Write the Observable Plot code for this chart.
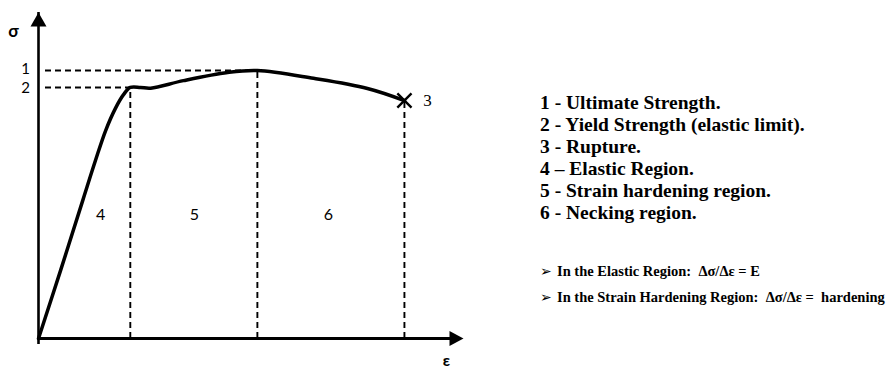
<!DOCTYPE html>
<html>
<head>
<meta charset="utf-8">
<script src="https://cdn.jsdelivr.net/npm/d3@7"></script>
<script src="https://cdn.jsdelivr.net/npm/@observablehq/plot@0.6"></script>
<style>
  body { margin: 0; background: #fff; width: 896px; height: 369px; position: relative; overflow: hidden; }
  #chart { position: absolute; left: 0; top: 0; }
  #key { position: absolute; left: 540px; top: 92px; font-family: "Liberation Serif", "Times New Roman", serif;
         font-weight: bold; font-size: 19.5px; line-height: 22px; color: #000; white-space: nowrap; }
  #notes { position: absolute; left: 540px; top: 258px; font-family: "Liberation Serif", "Times New Roman", serif;
           font-weight: bold; font-size: 14.5px; line-height: 26px; color: #000; white-space: nowrap; }
  #notes .b { font-family: "DejaVu Sans", sans-serif; font-weight: normal; font-size: 14px; display: inline-block; width: 17px; }
</style>
</head>
<body>
<div id="chart"></div>
<div id="key"></div>
<div id="notes"></div>
<script>
// Stress–strain curve (arbitrary units)
const strain = [0, 0.52, 1.04, 1.34, 1.58, 1.81, 2.00, 2.16, 2.40, 2.64, 3.41, 4.45, 5.15, 6.47, 7.74, 8.61];
const stress = [0, 2.09, 4.23, 5.46, 6.38, 7.06, 7.48, 7.70, 7.70, 7.68, 7.91, 8.16, 8.22, 7.98, 7.67, 7.30];

// Characteristic points: 1 ultimate, 2 yield, 3 rupture
const pointNames = ["1", "2", "3"];
const pointStrain = [5.15, 2.16, 8.61];
const pointStress = [8.22, 7.70, 7.30];

// Region numbers placed inside each zone
const regionNames = ["4", "5", "6"];
const regionStrain = [1.46, 3.67, 6.82];
const regionStress = 3.8;

const axisMax = 10;

const legendItems = [
  "1 - Ultimate Strength.",
  "2 - Yield Strength (elastic limit).",
  "3 - Rupture.",
  "4 \u2013 Elastic Region.",
  "5 - Strain hardening region.",
  "6 - Necking region."
];
const notes = [
  "In the Elastic Region:&nbsp; \u0394\u03c3/\u0394\u03b5 = E",
  "In the Strain Hardening Region:&nbsp; \u0394\u03c3/\u0394\u03b5 = &nbsp;hardening"
];

const curve = strain.map((e, i) => ({e, s: stress[i]}));
const points = pointNames.map((n, i) => ({n, e: pointStrain[i], s: pointStress[i]}));
const [ultimate, yieldPt, rupture] = points;
const regions = regionNames.map((n, i) => ({n, e: regionStrain[i], s: regionStress}));

// Filled arrowheads drawn with their tip at the anchor point
const arrowUp = {draw(c) { c.moveTo(0, 0); c.lineTo(-8, 14); c.lineTo(8, 14); c.closePath(); }};
const arrowRight = {draw(c) { c.moveTo(0, 0); c.lineTo(-14, -7.5); c.lineTo(-14, 7.5); c.closePath(); }};

const dash = "6,4";
const chart = Plot.plot({
  width: 480,
  height: 369,
  marginLeft: 38,
  marginRight: 17,
  marginTop: 12,
  marginBottom: 31,
  x: {domain: [0, axisMax], axis: null},
  y: {domain: [0, axisMax], axis: null},
  style: {background: "white", fontFamily: "Lato, 'Open Sans', sans-serif", color: "black"},
  marks: [
    // dashed guides to the σ axis
    Plot.ruleY([ultimate, yieldPt], {y: "s", x1: 0, x2: "e", stroke: "black", strokeWidth: 1.9, strokeDasharray: dash, insetLeft: 7}),
    // dashed region boundaries
    Plot.ruleX(points, {x: "e", y1: 0, y2: "s", stroke: "black", strokeWidth: 1.9, strokeDasharray: dash}),
    // axes with arrowheads
    Plot.ruleX([0], {x: 0, y1: 0, y2: axisMax, stroke: "black", strokeWidth: 2.6, insetTop: 6}),
    Plot.ruleY([0], {y: 0, x1: 0, x2: axisMax, stroke: "black", strokeWidth: 3, insetRight: 6}),
    Plot.dot([0], {x: 0, y: axisMax, symbol: arrowUp, r: 6, fill: "black", stroke: "none"}),
    Plot.dot([0], {x: axisMax, y: 0, symbol: arrowRight, r: 6, fill: "black", stroke: "none"}),
    // the curve
    Plot.line(curve, {x: "e", y: "s", curve: "catmull-rom", stroke: "black", strokeWidth: 3.5, strokeLinejoin: "round"}),
    Plot.dot([rupture], {x: "e", y: "s", symbol: "times", r: 6.5, stroke: "black", strokeWidth: 2.4}),
    // labels
    Plot.text(["\u03c3"], {x: 0, y: axisMax, text: d => d, dx: -25, dy: 19, fontSize: 17, fontWeight: "bold"}),
    Plot.text(["\u03b5"], {x: axisMax, y: 0, text: d => d, dx: -17, dy: 22, fontSize: 16, fontWeight: "bold"}),
    Plot.text([ultimate], {x: 0, y: "s", text: "n", dx: -13, dy: -1, fontSize: 15}),
    Plot.text([yieldPt], {x: 0, y: "s", text: "n", dx: -13, dy: 1, fontSize: 15}),
    Plot.text([rupture], {x: "e", y: "s", text: "n", dx: 23, fontSize: 17, fontFamily: "'Liberation Serif', serif"}),
    Plot.text(regions, {x: "e", y: "s", text: "n", fontSize: 16})
  ]
});
document.getElementById("chart").append(chart);

document.getElementById("key").innerHTML = legendItems.map(t => `<div>${t}</div>`).join("");
document.getElementById("notes").innerHTML = notes.map(t => `<div><span class="b">\u27a2</span>${t}</div>`).join("");
</script>
</body>
</html>
